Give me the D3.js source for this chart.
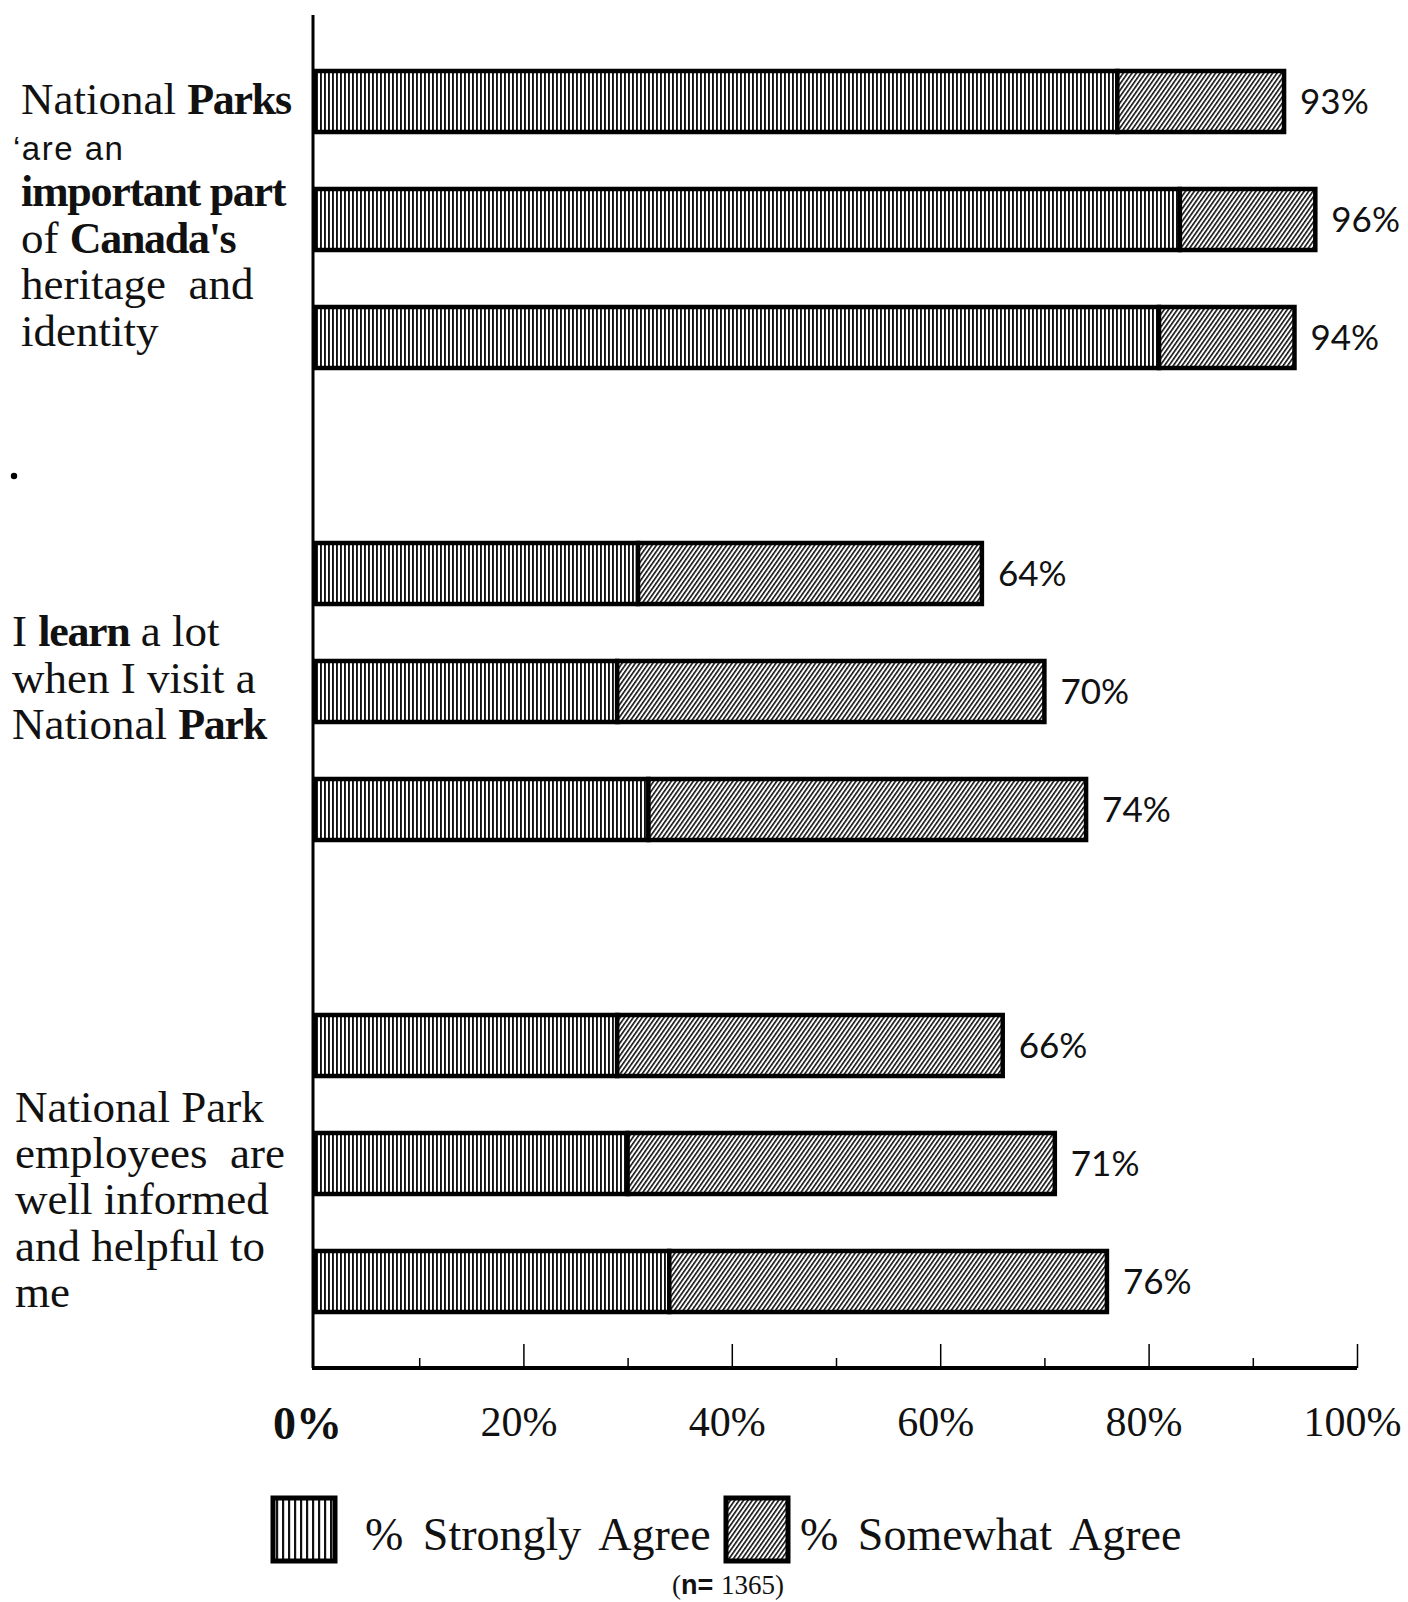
<!DOCTYPE html>
<html>
<head>
<meta charset="utf-8">
<script src="https://cdn.jsdelivr.net/npm/d3@7"></script>
<style>
  html, body { margin: 0; padding: 0; background: #fff; }
  svg { display: block; }
</style>
</head>
<body>
<svg id="chart" width="1408" height="1602"></svg>
<script>
// Row layout: three statements, three bars each, with an empty row between statements
const rowKeys = ["q1a", "q1b", "q1c", "gap1", "q2a", "q2b", "q2c", "gap2", "q3a", "q3b", "q3c"];
const barKeys = ["q1a", "q1b", "q1c", "q2a", "q2b", "q2c", "q3a", "q3b", "q3c"];
const barGroup = [0, 0, 0, 1, 1, 1, 2, 2, 2];

// Percent of respondents per bar
const stronglyAgree = [77, 83, 81, 31, 29, 32, 29, 30, 34];
const somewhatAgree = [16, 13, 13, 33, 41, 42, 37, 41, 42];

// Axis ticks
const majorTicks = [0, 20, 40, 60, 80, 100];
const minorTicks = [10, 30, 50, 70, 90];

// Statement text, line by line; each segment is [text, style] (r = roman, b = bold, s = sans)
const statementLines = [
  [
    [["National ", "r"], ["Parks", "b"]],
    [["\u2018are an", "s"]],
    [["important part", "b"]],
    [["of ", "r"], ["Canada's", "b"]],
    [["heritage  and", "r"]],
    [["identity", "r"]]
  ],
  [
    [["I ", "r"], ["learn", "b"], [" a lot", "r"]],
    [["when I visit a", "r"]],
    [["National ", "r"], ["Park", "b"]]
  ],
  [
    [["National Park", "r"]],
    [["employees  are", "r"]],
    [["well informed", "r"]],
    [["and helpful to", "r"]],
    [["me", "r"]]
  ]
];

const legendLabels = ["% Strongly Agree", "% Somewhat Agree"];
const sampleNote = "1365";

const svg = d3.select("#chart");
const serif = "'Liberation Serif', 'Times New Roman', serif";
const sans = "'Liberation Sans', Arial, sans-serif";
const labelFont = "Lato, 'Open Sans', sans-serif";

// Fill patterns: fine vertical rules and diagonal hatching
const defs = svg.append("defs");
const vert = defs.append("pattern").attr("id", "vert")
  .attr("patternUnits", "userSpaceOnUse").attr("width", 4).attr("height", 8);
vert.append("rect").attr("width", 4).attr("height", 8).attr("fill", "#fff");
vert.append("rect").attr("x", 0).attr("width", 1.9).attr("height", 8).attr("fill", "#111");

const vertOpen = defs.append("pattern").attr("id", "vertOpen")
  .attr("patternUnits", "userSpaceOnUse").attr("width", 6).attr("height", 8);
vertOpen.append("rect").attr("width", 6).attr("height", 8).attr("fill", "#fff");
vertOpen.append("rect").attr("x", 0).attr("width", 2.2).attr("height", 8).attr("fill", "#111");

const diag = defs.append("pattern").attr("id", "diag")
  .attr("patternUnits", "userSpaceOnUse").attr("width", 3.6).attr("height", 10)
  .attr("patternTransform", "rotate(35)");
diag.append("rect").attr("width", 3.6).attr("height", 10).attr("fill", "#fff");
diag.append("rect").attr("x", 0).attr("width", 1.6).attr("height", 10).attr("fill", "#111");

// Scales
const x = d3.scaleLinear().domain([0, 100]).range([315, 1357]);
const y = d3.scaleBand().domain(rowKeys).range([71, 1312]).paddingInner(0.483).paddingOuter(0);
const axisY = 1368;

// Bars
const bars = barKeys.map((k, i) => ({
  key: k,
  group: barGroup[i],
  strong: stronglyAgree[i],
  some: somewhatAgree[i],
  total: stronglyAgree[i] + somewhatAgree[i]
}));

const barG = svg.append("g").attr("class", "bars");
barG.selectAll("rect.strong").data(bars).join("rect")
  .attr("class", "strong")
  .attr("x", x(0))
  .attr("y", d => y(d.key))
  .attr("width", d => x(d.strong) - x(0))
  .attr("height", y.bandwidth())
  .attr("fill", "url(#vert)")
  .attr("stroke", "#000").attr("stroke-width", 4.5);

barG.selectAll("rect.some").data(bars).join("rect")
  .attr("class", "some")
  .attr("x", d => x(d.strong))
  .attr("y", d => y(d.key))
  .attr("width", d => x(d.total) - x(d.strong))
  .attr("height", y.bandwidth())
  .attr("fill", "url(#diag)")
  .attr("stroke", "#000").attr("stroke-width", 4.5);

// Total percentage labels
barG.selectAll("text.value").data(bars).join("text")
  .attr("class", "value")
  .attr("x", d => x(d.total) + 16)
  .attr("y", d => y(d.key) + y.bandwidth() / 2)
  .attr("dy", "0.36em")
  .attr("font-family", labelFont)
  .attr("font-size", 35)
  .attr("fill", "#111")
  .text(d => d.total + "%");

// Vertical axis line
svg.append("line")
  .attr("x1", x(0) - 2).attr("x2", x(0) - 2)
  .attr("y1", 15).attr("y2", axisY)
  .attr("stroke", "#000").attr("stroke-width", 3);

// Horizontal axis: minor and major ticks pointing up, labels below
const axisG = svg.append("g").attr("transform", `translate(0,${axisY})`);
axisG.append("g")
  .call(d3.axisTop(x).tickValues(minorTicks).tickSize(10).tickFormat(""))
  .call(g => g.select(".domain").remove())
  .call(g => g.selectAll(".tick line").attr("stroke", "#000").attr("stroke-width", 1.5));
axisG.append("g")
  .call(d3.axisTop(x).tickValues(majorTicks.slice(1)).tickSize(24).tickFormat(""))
  .call(g => g.select(".domain").remove())
  .call(g => g.selectAll(".tick line").attr("stroke", "#000").attr("stroke-width", 1.5));
axisG.append("g")
  .call(d3.axisBottom(x).tickValues(majorTicks).tickSize(0).tickPadding(38).tickFormat(d => d + "%"))
  .call(g => g.select(".domain").attr("stroke", "#000").attr("stroke-width", 4).attr("d", `M${x(0) - 3},0H${x(100)}`))
  .call(g => g.selectAll(".tick text")
    .attr("font-family", serif)
    .attr("font-size", 42)
    .attr("fill", "#111")
    .attr("dx", "-5"))
  .call(g => g.selectAll(".tick text").filter(d => d === 0)
    .attr("font-size", 46)
    .attr("font-weight", "bold")
    .attr("dx", "-8"));

// Statement labels on the left
const groupCenters = [1, 4, 7].map(i => y(barKeys[i]) + y.bandwidth() / 2);
const groupLeft = [21, 12, 15];
const groupShift = [-5, -14, 36];
const lineHeight = 46.4;
statementLines.forEach((lines, g) => {
  const first = groupCenters[g] - (lines.length - 1) * lineHeight / 2 + 15 + groupShift[g];
  lines.forEach((segs, li) => {
    const t = svg.append("text")
      .attr("x", groupLeft[g] + (segs[0][1] === "s" ? -8 : 0))
      .attr("y", first + li * lineHeight)
      .attr("fill", "#111")
      .style("white-space", "pre");
    segs.forEach(([txt, st]) => {
      const sp = t.append("tspan").text(txt);
      if (st === "s") {
        sp.attr("font-family", sans).attr("font-size", 33).attr("letter-spacing", "1.5px");
      } else if (st === "b") {
        sp.attr("font-family", serif).attr("font-size", 44).attr("font-weight", "bold").attr("letter-spacing", "-1.3px");
      } else {
        sp.attr("font-family", serif).attr("font-size", 45);
      }
    });
  });
});

// Stray dot between the first two statements
svg.append("circle").attr("cx", 14).attr("cy", 476).attr("r", 3.2).attr("fill", "#000");

// Legend
const legend = svg.append("g");
const swatches = [
  { fill: "url(#vertOpen)", x: 273, label: legendLabels[0], tx: 365 },
  { fill: "url(#diag)", x: 726, label: legendLabels[1], tx: 800 }
];
legend.selectAll("rect").data(swatches).join("rect")
  .attr("x", d => d.x).attr("y", 1498)
  .attr("width", 62).attr("height", 63)
  .attr("fill", d => d.fill)
  .attr("stroke", "#000").attr("stroke-width", 5);
legend.selectAll("text.leg").data(swatches).join("text")
  .attr("class", "leg")
  .attr("x", d => d.tx).attr("y", 1550)
  .attr("font-family", serif).attr("font-size", 46)
  .attr("word-spacing", "8px")
  .attr("fill", "#111")
  .text(d => d.label);

const note = legend.append("text")
  .attr("x", 728).attr("y", 1594)
  .attr("text-anchor", "middle")
  .attr("font-family", serif).attr("font-size", 27).attr("fill", "#111");
note.append("tspan").text("(");
note.append("tspan").attr("font-weight", "bold").attr("font-family", sans).text("n= ");
note.append("tspan").text(sampleNote + ")");
</script>
</body>
</html>
